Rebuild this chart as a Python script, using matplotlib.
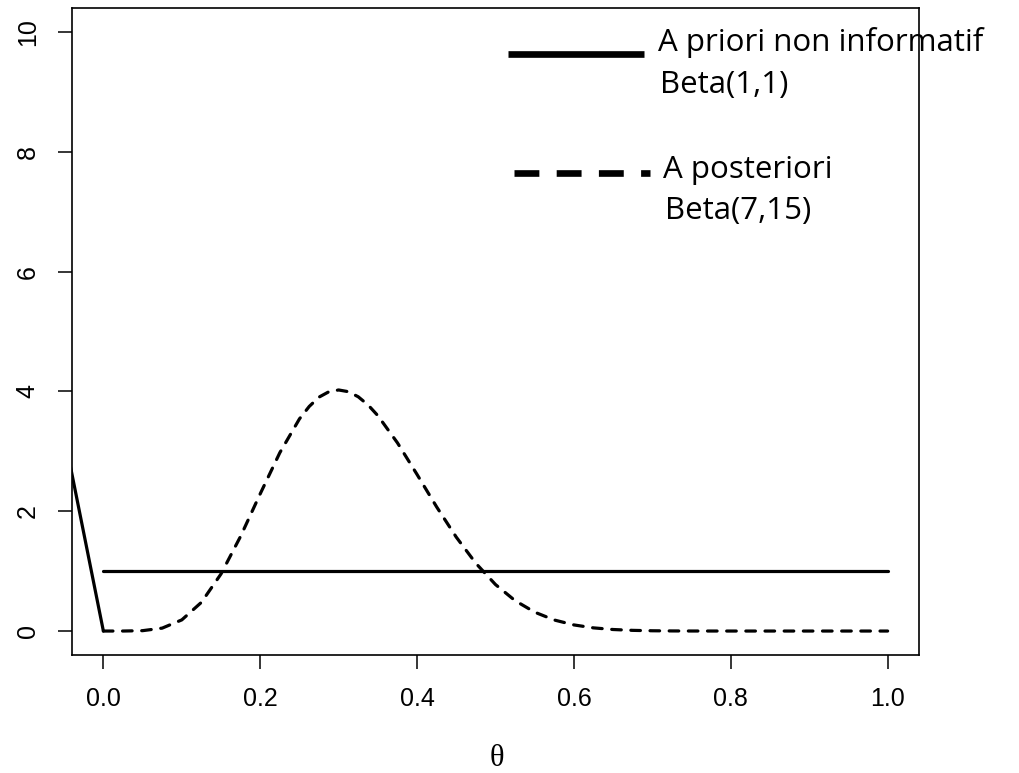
import matplotlib
matplotlib.use("Agg")
import matplotlib.pyplot as plt
from matplotlib.lines import Line2D

# ---- data ----
theta_post = [0.0, 0.025, 0.05, 0.075, 0.1, 0.125, 0.15, 0.175, 0.2, 0.225,
              0.25, 0.2625, 0.275, 0.2875, 0.3, 0.3125, 0.325, 0.3375, 0.35, 0.375,
              0.4, 0.425, 0.45, 0.475,
              0.5, 0.525, 0.55, 0.575, 0.6, 0.625, 0.65, 0.675, 0.7, 0.725,
              0.75, 0.775, 0.8, 0.85, 0.9, 0.95, 1.0]
dens_post = [0.0, 0.0001, 0.0062, 0.0486, 0.186, 0.479, 0.953, 1.582, 2.291, 2.977,
             3.541, 3.749, 3.905, 3.994, 4.024, 3.995, 3.910, 3.774, 3.595, 3.141,
             2.613, 2.071, 1.567, 1.130,
             0.776, 0.507, 0.315, 0.184, 0.102, 0.0527, 0.0254, 0.0113, 0.0046, 0.0017,
             0.0005, 0.0002, 0.0, 0.0, 0.0, 0.0, 0.0]
theta_prior = [0.0, 1.0]
dens_prior = [1.0, 1.0]
theta_edge = [-0.05, 0.0]
dens_edge = [3.27, 0.0]

xticks = [0.0, 0.2, 0.4, 0.6, 0.8, 1.0]
xtick_labels = ["0.0", "0.2", "0.4", "0.6", "0.8", "1.0"]
yticks = [0, 2, 4, 6, 8, 10]
ytick_labels = ["0", "2", "4", "6", "8", "10"]

legend_lines = ["A priori non informatif", "Beta(1,1)", "A posteriori", "Beta(7,15)"]
xlabel = "\u03b8"

W, H = 1019, 773
fig = plt.figure(figsize=(W / 100, H / 100), dpi=100)
ax = fig.add_axes([72 / W, 1 - 655 / H, (919 - 72) / W, (655 - 8) / H])

lw = 2.3
ax.plot(theta_edge, dens_edge, color="black", lw=lw, solid_capstyle="round", zorder=2)
ax.plot(theta_prior, dens_prior, color="black", lw=lw, solid_capstyle="round", zorder=2)
ax.plot(theta_post, dens_post, color="black", lw=lw, dashes=(3.0, 3.0),
        dash_capstyle="round", zorder=2)

ax.set_xlim(-0.04, 1.04)
ax.set_ylim(-0.4, 10.4)

ax.set_xticks(xticks)
ax.set_xticklabels(xtick_labels, fontfamily="Liberation Sans", fontsize=18)
ax.set_yticks(yticks)
ax.set_yticklabels(ytick_labels, fontfamily="Liberation Sans", fontsize=18,
                   rotation=90, va="center")
ax.tick_params(axis="both", length=10.3, width=1.1, pad=13, color="black")
for s in ax.spines.values():
    s.set_linewidth(1.2)
    s.set_zorder(2.5)

# x label (theta) in serif
fig.text(497 / W, 0.0, xlabel, ha="center", va="bottom",
         fontsize=22, family=["Liberation Serif", "DejaVu Serif"])

# ---- hand-made legend (drawn under the frame) ----
def px(x, y):
    return (x / W, 1 - y / H)

l1 = Line2D([508 / W, 644 / W], [1 - 54.3 / H, 1 - 54.3 / H], transform=fig.transFigure,
            color="black", lw=4.8, solid_capstyle="butt")
l2 = Line2D([514 / W, 650 / W], [1 - 172.7 / H, 1 - 172.7 / H], transform=fig.transFigure,
            color="black", lw=4.8, dashes=(3.73, 2.6), dash_capstyle="butt")
fig.add_artist(l1)
fig.add_artist(l2)

txt_pos = [(658, 51), (660, 93), (663, 178), (665, 219)]
for s, (x, y) in zip(legend_lines, txt_pos):
    ax.text(*px(x, y), s, transform=fig.transFigure, ha="left", va="baseline",
            fontsize=22.5, family=["Open Sans", "DejaVu Sans"], zorder=1, clip_on=False)

fig.savefig("out.png", dpi=100)
